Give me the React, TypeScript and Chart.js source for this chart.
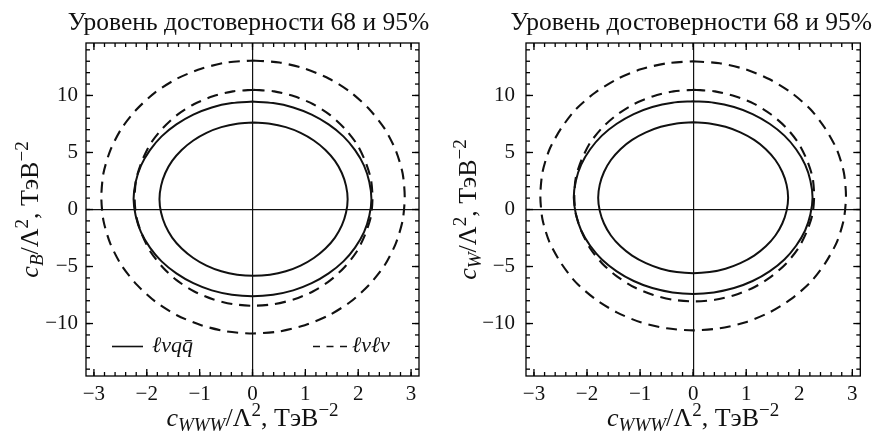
import React, { useEffect, useRef } from 'react';
import { Chart, registerables } from 'chart.js';

Chart.register(...registerables);

// ---------- text ----------
const TITLE = 'Уровень достоверности 68 и 95%';
const LEGEND_LABELS = ['ℓνqq\u0304', 'ℓνℓν'];
const Y_SUBSCRIPTS = ['B', 'W'];
const X_SUBSCRIPT = 'WWW';
const UNIT = ', ТэВ';

// ---------- axes ----------
const X_MIN = -3.15;
const X_MAX = 3.15;
const Y_MIN = -14.6;
const Y_MAX = 14.6;
const X_MAJOR = 1;
const Y_MAJOR = 5;
const X_MAJOR_TICKS = [-3, -2, -1, 0, 1, 2, 3];
const X_MINOR_TICKS = [-3.0, -2.8, -2.6, -2.4, -2.2, -2.0, -1.8, -1.6, -1.4, -1.2, -1.0, -0.8, -0.6, -0.4, -0.2, 0, 0.2, 0.4, 0.6, 0.8, 1.0, 1.2, 1.4, 1.6, 1.8, 2.0, 2.2, 2.4, 2.6, 2.8, 3.0];
const Y_MAJOR_TICKS = [-10, -5, 0, 5, 10];
const Y_MINOR_TICKS = [-14, -13, -12, -11, -10, -9, -8, -7, -6, -5, -4, -3, -2, -1, 0, 1, 2, 3, 4, 5, 6, 7, 8, 9, 10, 11, 12, 13, 14];

// ---------- data: contours [x, y] (left: c_B vs c_WWW) ----------
const L_SOLID_68: [number, number][] = [[0.02,7.62],[0.33,7.52],[0.63,7.22],[0.91,6.72],[1.16,6.05],[1.38,5.22],[1.56,4.26],[1.69,3.20],[1.77,2.07],[1.80,0.90],[1.77,-0.27],[1.69,-1.40],[1.56,-2.46],[1.38,-3.42],[1.16,-4.25],[0.91,-4.92],[0.63,-5.42],[0.33,-5.72],[0.02,-5.82],[-0.29,-5.72],[-0.59,-5.42],[-0.87,-4.92],[-1.12,-4.25],[-1.34,-3.42],[-1.52,-2.46],[-1.65,-1.40],[-1.73,-0.27],[-1.76,0.90],[-1.73,2.07],[-1.65,3.20],[-1.52,4.26],[-1.34,5.22],[-1.12,6.05],[-0.87,6.72],[-0.59,7.22],[-0.29,7.52],[0.02,7.62]];
const L_SOLID_95: [number, number][] = [[0.00,9.46],[0.39,9.33],[0.77,8.95],[1.12,8.32],[1.44,7.46],[1.72,6.41],[1.94,5.20],[2.11,3.85],[2.21,2.41],[2.25,0.93],[2.21,-0.55],[2.11,-1.99],[1.94,-3.34],[1.72,-4.55],[1.44,-5.60],[1.12,-6.46],[0.77,-7.09],[0.39,-7.47],[0.00,-7.60],[-0.39,-7.47],[-0.77,-7.09],[-1.12,-6.46],[-1.44,-5.60],[-1.72,-4.55],[-1.94,-3.34],[-2.11,-1.99],[-2.21,-0.55],[-2.25,0.93],[-2.21,2.41],[-2.11,3.85],[-1.94,5.20],[-1.72,6.41],[-1.44,7.46],[-1.12,8.32],[-0.77,8.95],[-0.39,9.33],[0.00,9.46]];
const L_DASH_68: [number, number][] = [[0.02,10.50],[0.41,10.36],[0.79,9.93],[1.15,9.23],[1.47,8.28],[1.74,7.12],[1.97,5.77],[2.13,4.27],[2.24,2.67],[2.27,1.03],[2.24,-0.61],[2.13,-2.21],[1.97,-3.71],[1.74,-5.06],[1.47,-6.22],[1.15,-7.17],[0.79,-7.87],[0.41,-8.30],[0.02,-8.44],[-0.37,-8.30],[-0.75,-7.87],[-1.11,-7.17],[-1.43,-6.22],[-1.70,-5.06],[-1.93,-3.71],[-2.09,-2.21],[-2.20,-0.61],[-2.23,1.03],[-2.20,2.67],[-2.09,4.27],[-1.93,5.77],[-1.70,7.12],[-1.43,8.28],[-1.11,9.23],[-0.75,9.93],[-0.37,10.36],[0.02,10.50]];
const L_DASH_95: [number, number][] = [[0.01,13.07],[0.51,12.89],[0.99,12.35],[1.45,11.47],[1.86,10.27],[2.21,8.79],[2.50,7.09],[2.71,5.19],[2.84,3.18],[2.88,1.10],[2.84,-0.98],[2.71,-2.99],[2.50,-4.89],[2.21,-6.59],[1.86,-8.07],[1.45,-9.27],[0.99,-10.15],[0.51,-10.69],[0.01,-10.87],[-0.49,-10.69],[-0.97,-10.15],[-1.43,-9.27],[-1.84,-8.07],[-2.19,-6.59],[-2.48,-4.89],[-2.69,-2.99],[-2.82,-0.98],[-2.86,1.10],[-2.82,3.18],[-2.69,5.19],[-2.48,7.09],[-2.19,8.79],[-1.84,10.27],[-1.43,11.47],[-0.97,12.35],[-0.49,12.89],[0.01,13.07]];

// ---------- data: contours [x, y] (right: c_W vs c_WWW) ----------
const R_SOLID_68: [number, number][] = [[0.00,7.65],[0.31,7.55],[0.61,7.25],[0.89,6.76],[1.15,6.10],[1.37,5.29],[1.55,4.34],[1.68,3.29],[1.76,2.18],[1.79,1.03],[1.76,-0.12],[1.68,-1.23],[1.55,-2.28],[1.37,-3.23],[1.15,-4.04],[0.89,-4.70],[0.61,-5.19],[0.31,-5.49],[0.00,-5.59],[-0.31,-5.49],[-0.61,-5.19],[-0.89,-4.70],[-1.15,-4.04],[-1.37,-3.23],[-1.55,-2.28],[-1.68,-1.23],[-1.76,-0.12],[-1.79,1.03],[-1.76,2.18],[-1.68,3.29],[-1.55,4.34],[-1.37,5.29],[-1.15,6.10],[-0.89,6.76],[-0.61,7.25],[-0.31,7.55],[0.00,7.65]];
const R_SOLID_95: [number, number][] = [[0.00,9.50],[0.39,9.37],[0.77,8.99],[1.12,8.37],[1.44,7.52],[1.72,6.48],[1.94,5.28],[2.11,3.94],[2.21,2.52],[2.25,1.05],[2.21,-0.42],[2.11,-1.84],[1.94,-3.18],[1.72,-4.38],[1.44,-5.42],[1.12,-6.27],[0.77,-6.89],[0.39,-7.27],[0.00,-7.40],[-0.39,-7.27],[-0.77,-6.89],[-1.12,-6.27],[-1.44,-5.42],[-1.72,-4.38],[-1.94,-3.18],[-2.11,-1.84],[-2.21,-0.42],[-2.25,1.05],[-2.21,2.52],[-2.11,3.94],[-1.94,5.28],[-1.72,6.48],[-1.44,7.52],[-1.12,8.37],[-0.77,8.99],[-0.39,9.37],[0.00,9.50]];
const R_DASH_68: [number, number][] = [[0.02,10.50],[0.41,10.36],[0.79,9.94],[1.15,9.26],[1.47,8.33],[1.75,7.19],[1.98,5.86],[2.14,4.39],[2.25,2.83],[2.28,1.22],[2.25,-0.39],[2.14,-1.95],[1.98,-3.42],[1.75,-4.75],[1.47,-5.89],[1.15,-6.82],[0.79,-7.50],[0.41,-7.92],[0.02,-8.06],[-0.37,-7.92],[-0.75,-7.50],[-1.11,-6.82],[-1.43,-5.89],[-1.71,-4.75],[-1.94,-3.42],[-2.10,-1.95],[-2.21,-0.39],[-2.24,1.22],[-2.21,2.83],[-2.10,4.39],[-1.94,5.86],[-1.71,7.19],[-1.43,8.33],[-1.11,9.26],[-0.75,9.94],[-0.37,10.36],[0.02,10.50]];
const R_DASH_95: [number, number][] = [[0.00,13.00],[0.50,12.82],[0.99,12.29],[1.44,11.42],[1.85,10.24],[2.21,8.79],[2.49,7.10],[2.71,5.24],[2.84,3.25],[2.88,1.20],[2.84,-0.85],[2.71,-2.84],[2.49,-4.70],[2.21,-6.39],[1.85,-7.84],[1.44,-9.02],[0.99,-9.89],[0.50,-10.42],[0.00,-10.60],[-0.50,-10.42],[-0.99,-9.89],[-1.44,-9.02],[-1.85,-7.84],[-2.21,-6.39],[-2.49,-4.70],[-2.71,-2.84],[-2.84,-0.85],[-2.88,1.20],[-2.84,3.25],[-2.71,5.24],[-2.49,7.10],[-2.21,8.79],[-1.85,10.24],[-1.44,11.42],[-0.99,12.29],[-0.50,12.82],[0.00,13.00]];

// ---------- style ----------
const INK = '#111';
const SERIF = "'Liberation Serif', 'DejaVu Serif', serif";
const W = 437;
const H = 438;
const MAJOR_LEN = 7;
const MINOR_LEN = 4;

const fmt = (v: number) => (v < 0 ? '\u2212' + Math.abs(v) : String(v));

type Seg = { t: string; f: string; dy: number };

function axisTitleSegs(sub: string): Seg[] {
  const M = 26;
  const S = 19;
  return [
    { t: 'c', f: `italic ${M}px ${SERIF}`, dy: 0 },
    { t: sub, f: `italic ${S}px ${SERIF}`, dy: 5 },
    { t: '/\u039B', f: `${M}px ${SERIF}`, dy: 0 },
    { t: '2', f: `${S}px ${SERIF}`, dy: -10 },
    { t: UNIT, f: `${M}px ${SERIF}`, dy: 0 },
    { t: '\u22122', f: `${S}px ${SERIF}`, dy: -10 },
  ];
}

function drawRich(ctx: CanvasRenderingContext2D, segs: Seg[], cx: number, y: number) {
  let total = 0;
  const widths = segs.map((s) => {
    ctx.font = s.f;
    const w = ctx.measureText(s.t).width;
    total += w;
    return w;
  });
  let x = cx - total / 2;
  segs.forEach((s, i) => {
    ctx.font = s.f;
    ctx.fillText(s.t, x, y + s.dy);
    x += widths[i];
  });
}

const decorPlugin = {
  id: 'decor',
  afterDraw(chart: any, _args: any, opts: any) {
    const ctx: CanvasRenderingContext2D = chart.ctx;
    const a = chart.chartArea;
    const sx = chart.scales.x;
    const sy = chart.scales.y;
    const xPix = (v: number) => {
      const p = sx ? Number(sx.getPixelForValue(v)) : NaN;
      return Number.isFinite(p) ? p : a.left + ((v - X_MIN) / (X_MAX - X_MIN)) * (a.right - a.left);
    };
    const yPix = (v: number) => {
      const p = sy ? Number(sy.getPixelForValue(v)) : NaN;
      return Number.isFinite(p) ? p : a.bottom - ((v - Y_MIN) / (Y_MAX - Y_MIN)) * (a.bottom - a.top);
    };
    ctx.save();
    ctx.setLineDash([]);
    ctx.globalAlpha = 1;
    ctx.fillStyle = '#000';
    const xSets: [number[], number][] = [
      [X_MINOR_TICKS, MINOR_LEN],
      [X_MAJOR_TICKS, MAJOR_LEN],
    ];
    const ySets: [number[], number][] = [
      [Y_MINOR_TICKS, MINOR_LEN],
      [Y_MAJOR_TICKS, MAJOR_LEN],
    ];
    for (const [vals, len] of xSets) {
      for (const v of vals) {
        const px = xPix(v);
        ctx.fillRect(px - 0.65, a.top, 1.3, len);
        ctx.fillRect(px - 0.65, a.bottom - len, 1.3, len);
      }
    }
    for (const [vals, len] of ySets) {
      for (const v of vals) {
        const py = yPix(v);
        ctx.fillRect(a.left, py - 0.65, len, 1.3);
        ctx.fillRect(a.right - len, py - 0.65, len, 1.3);
      }
    }
    ctx.strokeStyle = '#000';
    ctx.lineWidth = 1.3;
    ctx.strokeRect(a.left, a.top, a.right - a.left, a.bottom - a.top);
    ctx.restore();

    const cx = (a.left + a.right) / 2;
    const cy = (a.top + a.bottom) / 2;
    ctx.save();
    ctx.fillStyle = INK;
    ctx.strokeStyle = INK;
    ctx.textBaseline = 'alphabetic';
    ctx.textAlign = 'center';
    ctx.font = `25.5px ${SERIF}`;
    ctx.fillText(TITLE, cx + opts.titleDx, 30);
    ctx.textAlign = 'left';
    drawRich(ctx, axisTitleSegs(X_SUBSCRIPT), cx, opts.xTitleY);
    ctx.save();
    ctx.translate(opts.yTitleX, cy);
    ctx.rotate(-Math.PI / 2);
    drawRich(ctx, axisTitleSegs(opts.ySub), 0, 0);
    ctx.restore();
    if (opts.legend) {
      const ly = a.bottom - 29.5;
      const by = a.bottom - 24;
      ctx.lineWidth = 1.6;
      ctx.beginPath();
      ctx.moveTo(a.left + 26, ly);
      ctx.lineTo(a.left + 57, ly);
      ctx.stroke();
      ctx.font = `italic 22px ${SERIF}`;
      ctx.fillText(LEGEND_LABELS[0], a.left + 66, by);
      ctx.setLineDash([7, 6.5]);
      ctx.beginPath();
      ctx.moveTo(a.right - 106, ly);
      ctx.lineTo(a.right - 72, ly);
      ctx.stroke();
      ctx.setLineDash([]);
      ctx.fillText(LEGEND_LABELS[1], a.right - 67, by);
    }
    ctx.restore();
  },
};

type PanelCfg = {
  series: [number, number][][];
  ySub: string;
  yWidth: number;
  yPad: number;
  padRight: number;
  yTitleX: number;
  titleDx: number;
  legend: boolean;
};

function Panel({ cfg }: { cfg: PanelCfg }) {
  const ref = useRef<HTMLCanvasElement>(null);
  useEffect(() => {
    const toPts = (arr: [number, number][]) => arr.map(([x, y]) => ({ x, y }));
    const styles = [
      { borderDash: [] as number[], borderWidth: 2 },
      { borderDash: [] as number[], borderWidth: 2 },
      { borderDash: [11, 7], borderWidth: 2.1 },
      { borderDash: [11, 7], borderWidth: 2.1 },
    ];
    const zeroOnly = (c: any) => (c.tick && c.tick.value === 0 ? INK : 'rgba(0,0,0,0)');
    const tickFont = { family: SERIF, size: 21 };
    const chart = new Chart(ref.current as HTMLCanvasElement, {
      type: 'scatter',
      data: {
        datasets: cfg.series.map((s, i) => ({
          data: toPts(s),
          showLine: true,
          borderColor: INK,
          backgroundColor: INK,
          pointRadius: 0,
          tension: 0.25,
          fill: false,
          xAxisID: 'x',
          yAxisID: 'y',
          ...styles[i],
        })),
      },
      plugins: [decorPlugin as any],
      options: {
        responsive: false,
        animation: false,
        events: [],
        layout: { padding: { left: 0, right: cfg.padRight, top: 43, bottom: 0 } },
        plugins: {
          legend: { display: false },
          tooltip: { enabled: false },
          title: { display: false },
          decor: {
            ySub: cfg.ySub,
            xTitleY: 426,
            yTitleX: cfg.yTitleX,
            titleDx: cfg.titleDx,
            legend: cfg.legend,
          },
        } as any,
        scales: {
          x: {
            type: 'linear',
            position: 'bottom',
            min: X_MIN,
            max: X_MAX,
            afterFit: (s: any) => {
              s.height = 62;
            },
            ticks: {
              stepSize: X_MAJOR,
              includeBounds: false,
              padding: 6,
              color: INK,
              font: tickFont,
              maxRotation: 0,
              autoSkip: false,
              callback: (v: any) => fmt(Number(v)),
            },
            grid: { drawTicks: false, drawOnChartArea: true, color: zeroOnly, lineWidth: 1.2 },
            border: { display: false },
          },
          y: {
            type: 'linear',
            position: 'left',
            min: Y_MIN,
            max: Y_MAX,
            afterFit: (s: any) => {
              s.width = cfg.yWidth;
            },
            ticks: {
              stepSize: Y_MAJOR,
              includeBounds: false,
              padding: cfg.yPad,
              color: INK,
              font: tickFont,
              autoSkip: false,
              callback: (v: any) => fmt(Number(v)),
            },
            grid: { drawTicks: false, drawOnChartArea: true, color: zeroOnly, lineWidth: 1.2 },
            border: { display: false },
          },
        } as any,
      },
    } as any);
    return () => chart.destroy();
  }, [cfg]);
  return <canvas ref={ref} width={W} height={H} style={{ display: 'block', width: W, height: H }} />;
}

const LEFT: PanelCfg = {
  series: [L_SOLID_68, L_SOLID_95, L_DASH_68, L_DASH_95],
  ySub: Y_SUBSCRIPTS[0],
  yWidth: 86,
  yPad: 8,
  padRight: 18,
  yTitleX: 38,
  titleDx: -4,
  legend: true,
};

const RIGHT: PanelCfg = {
  series: [R_SOLID_68, R_SOLID_95, R_DASH_68, R_DASH_95],
  ySub: Y_SUBSCRIPTS[1],
  yWidth: 89,
  yPad: 11,
  padRight: 13.7,
  yTitleX: 39,
  titleDx: -2,
  legend: false,
};

export default function App() {
  return (
    <div
      style={{
        position: 'absolute',
        left: 0,
        top: 0,
        width: W * 2,
        height: H,
        display: 'flex',
        background: '#fff',
      }}
    >
      <Panel cfg={LEFT} />
      <Panel cfg={RIGHT} />
    </div>
  );
}
